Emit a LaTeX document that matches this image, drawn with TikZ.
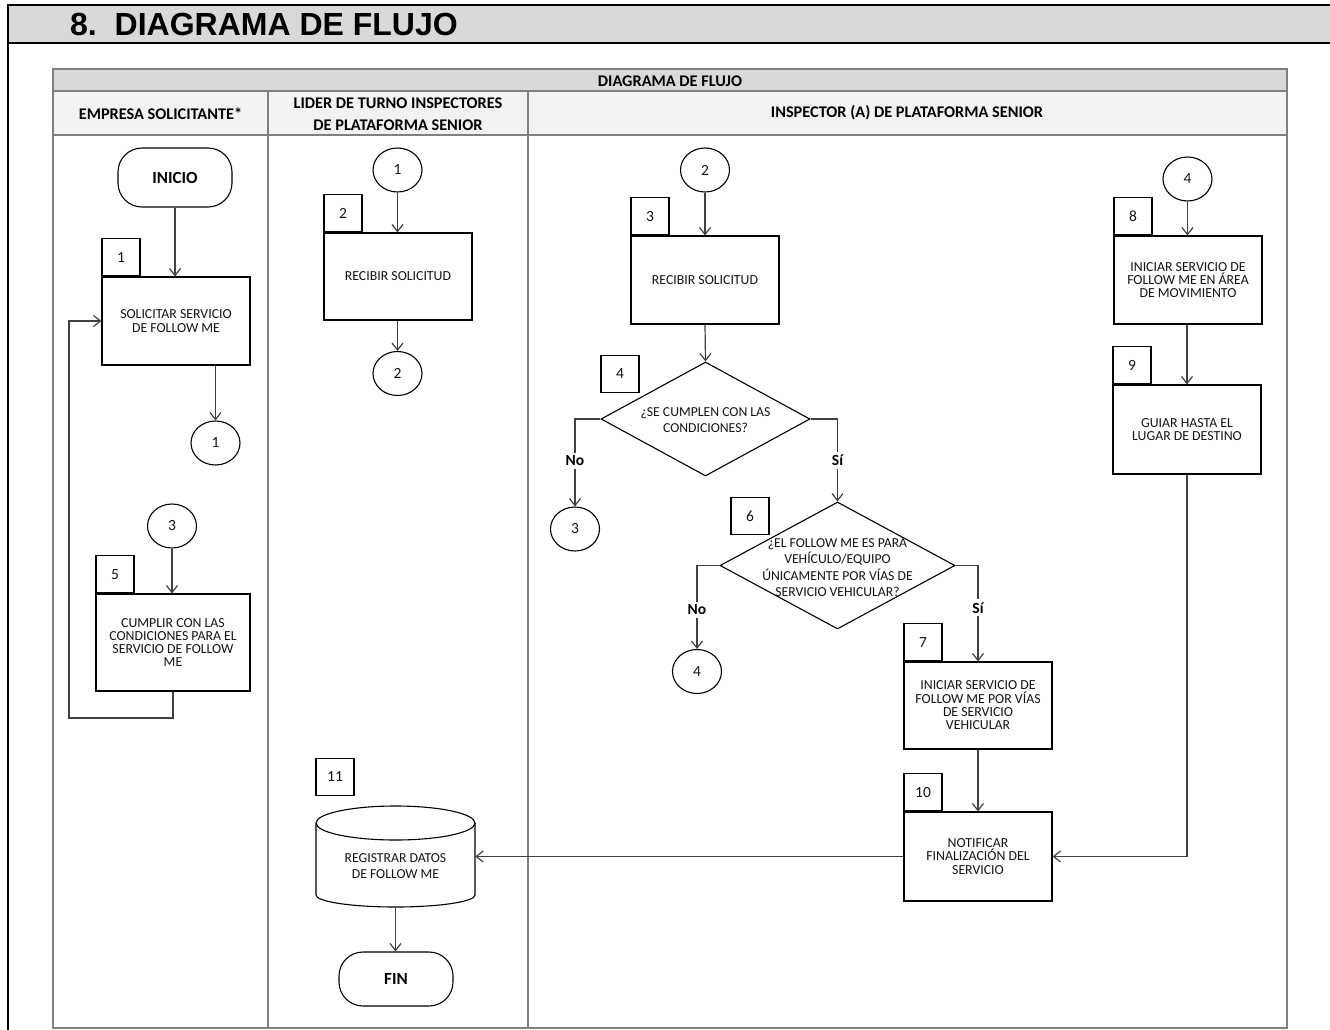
\documentclass[tikz,border=0pt]{standalone}
\usepackage{fontspec}
\setmainfont{Carlito}
\newfontfamily\titlefnt{Liberation Sans}
\usetikzlibrary{shapes.geometric,arrows.meta}
\newcommand\procfnt{\fontsize{13.8}{13.3}\selectfont}
\newcommand\decfnt{\fontsize{13.7}{16.3}\selectfont}
\newcommand\hdrfnt{\fontsize{16.3}{22}\selectfont\bfseries}
\newcommand\numfnt{\fontsize{15.5}{17}\selectfont}
\newcommand\termfnt{\fontsize{17}{20}\selectfont\bfseries}
\newcommand\ynfnt{\fontsize{15.5}{18}\selectfont\bfseries}
\definecolor{hdrgray}{HTML}{D9D9D9}
\definecolor{lanegray}{HTML}{F2F2F2}
\definecolor{tblline}{HTML}{7F7F7F}
\definecolor{conline}{HTML}{404040}
\definecolor{txt}{HTML}{141414}
\tikzset{
  procbox/.style={draw=black, line width=1.1pt, rectangle, inner sep=2pt, align=center, text=txt, font=\procfnt},
  tagbox/.style={draw=black, line width=1.1pt, rectangle, minimum width=38pt, minimum height=37pt, inner sep=0pt, text=txt, font=\numfnt},
  connc/.style={draw=black, line width=1.1pt, ellipse, minimum width=49pt, minimum height=44pt, inner sep=0pt, text=txt, font=\numfnt},
  termbox/.style={draw=black, line width=1.1pt, rectangle, rounded corners=24pt, minimum width=114pt, inner sep=0pt, text=black, font=\termfnt},
  decbox/.style={draw=black, line width=1.1pt, diamond, inner sep=0pt},
  dectext/.style={align=center, text=txt, font=\decfnt},
  arr/.style={draw=conline, line width=1.2pt, -{Straight Barb[length=7pt,width=11pt]}},
  conn/.style={draw=conline, line width=1.2pt},
  yn/.style={fill=white, inner sep=3pt, text=black, font=\ynfnt},
  hdrtext/.style={align=center, text=black, font=\hdrfnt}
}
\begin{document}
\begin{tikzpicture}[x=1pt,y=-1pt]
\useasboundingbox (0,0) rectangle (1330,1030);
\fill[white] (0,0) rectangle (1330,1030);
% title bar
\fill[hdrgray] (8,5) rectangle (1330,43);
\draw[line width=2.5pt] (1330,5) -- (8,5) -- (8,1030);
\draw[line width=2.5pt] (8,43) -- (1330,43);
\node[anchor=base west, inner sep=0pt, font=\titlefnt\bfseries\fontsize{32}{36}\selectfont] (title) at (70,36) {8.\ \ DIAGRAMA DE FLUJO};
% table
\fill[hdrgray] (53,69) rectangle (1287,91);
\fill[lanegray] (53,91) rectangle (1287,135);
\draw[tblline, line width=1.5pt] (53,69) rectangle (1287,1028);
\draw[tblline, line width=1.5pt] (53,91) -- (1287,91);
\draw[tblline, line width=1.5pt] (53,135) -- (1287,135);
\draw[tblline, line width=1.5pt] (268,91) -- (268,1028);
\draw[tblline, line width=1.5pt] (528,91) -- (528,1028);
\node[hdrtext] (hdr) at (670,81) {DIAGRAMA DE FLUJO};
\node[hdrtext] (h1) at (160.5,114) {EMPRESA SOLICITANTE*};
\node[hdrtext] (h2) at (398,114) {LIDER DE TURNO INSPECTORES\\DE PLATAFORMA SENIOR};
\node[hdrtext] (h3) at (907,113) {INSPECTOR (A) DE PLATAFORMA SENIOR};

% ---- lane 1
\node[termbox, minimum height=59pt] (inicio) at (175,177.5) {INICIO};
\node[procbox, minimum width=148pt, minimum height=88pt] (b1) at (176,321) {SOLICITAR SERVICIO\\DE FOLLOW ME};
\node[tagbox, anchor=south west] (t1) at (b1.north west) {1};
\node[connc] (c1a) at (215.5,443) {1};
\node[connc] (c3a) at (172,526) {3};
\node[procbox, minimum width=154pt, minimum height=97pt] (b5) at (173,642.5) {CUMPLIR CON LAS\\CONDICIONES PARA EL\\SERVICIO DE FOLLOW\\ME};
\node[tagbox, anchor=south west] (t5) at (b5.north west) {5};
\coordinate (fb) at (69,718);

\draw[arr] (inicio.south) -- (inicio.south |- b1.north);
\draw[arr] (c1a.north |- b1.south) -- (c1a.north);
\draw[arr] (c3a.south) -- (c3a.south |- b5.north);
\draw[arr] (b5.south) |- (fb) |- (b1.west);

% ---- lane 2
\node[connc] (c1b) at (397.5,170) {1};
\node[procbox, minimum width=148pt, minimum height=87pt] (b2) at (398,276.5) {RECIBIR SOLICITUD};
\node[tagbox, anchor=south west] (t2) at (b2.north west) {2};
\node[connc] (c2b) at (397.5,373.5) {2};
\node[tagbox] (t11) at (335,777) {11};
\node[minimum width=159pt, minimum height=101pt, inner sep=0pt,
      label={[align=center, text=txt, font=\decfnt, yshift=-9.5pt]center:REGISTRAR DATOS\\DE FOLLOW ME}] (cyl) at (395.5,856.5) {};
\draw[black, line width=1.1pt] (316,823) -- (316,895) arc[start angle=180, end angle=360, x radius=79.5pt, y radius=12pt] -- (475,823);
\draw[black, line width=1.1pt] (395.5,823) ellipse[x radius=79.5pt, y radius=17pt];
\node[termbox, minimum height=54pt] (fin) at (396,979) {FIN};

\draw[arr] (c1b.south) -- (c1b.south |- b2.north);
\draw[arr] (c2b.north |- b2.south) -- (c2b.north);
\draw[arr] (cyl.south) -- (cyl.south |- fin.north);

% ---- lane 3
\node[connc] (c2c) at (705,170) {2};
\node[procbox, minimum width=148pt, minimum height=88pt] (b3) at (705,280) {RECIBIR SOLICITUD};
\node[tagbox, anchor=south west] (t3) at (b3.north west) {3};
\node[decbox, minimum width=209pt, minimum height=114pt,
      label={[dectext, yshift=-1pt]center:¿SE CUMPLEN CON LAS\\CONDICIONES?}] (d4) at (705.5,419) {};
\node[tagbox] (t4) at (620,374) {4};
\node[connc] (c3c) at (575,529) {3};
\node[decbox, minimum width=235pt, minimum height=127pt,
      label={[dectext, yshift=-2pt]center:¿EL FOLLOW ME ES PARA\\VEHÍCULO/EQUIPO\\ÚNICAMENTE POR VÍAS DE\\SERVICIO VEHICULAR?}] (d6) at (837.5,565.5) {};
\node[tagbox] (t6) at (750,516) {6};
\node[connc] (c4c) at (697,671.5) {4};
\node[procbox, minimum width=148pt, minimum height=87pt] (b7) at (978,705.5) {INICIAR SERVICIO DE\\FOLLOW ME POR VÍAS\\DE SERVICIO\\VEHICULAR};
\node[tagbox, anchor=south west] (t7) at (b7.north west) {7};
\node[procbox, minimum width=148pt, minimum height=89pt] (b10) at (978,856.5) {NOTIFICAR\\FINALIZACIÓN DEL\\SERVICIO};
\node[tagbox, anchor=south west] (t10) at (b10.north west) {10};
\node[connc] (c4d) at (1187.5,179) {4};
\node[procbox, minimum width=148pt, minimum height=88pt] (b8) at (1188,280) {INICIAR SERVICIO DE\\FOLLOW ME EN ÁREA\\DE MOVIMIENTO};
\node[tagbox, anchor=south west] (t8) at (b8.north west) {8};
\node[procbox, minimum width=148pt, minimum height=89pt] (b9) at (1187,429.5) {GUIAR HASTA EL\\LUGAR DE DESTINO};
\node[tagbox, anchor=south west] (t9) at (b9.north west) {9};

\draw[arr] (c2c.south) -- (c2c.south |- b3.north);
\draw[arr] (b3.south) -- (d4.north);
\draw[arr] (d4.west) -| node[yn, pos=0.74] {No} (c3c.north);
\draw[arr] (d4.east) -| node[yn, pos=0.75] {Sí} (d6.north);
\draw[arr] (d6.west) -| node[yn, pos=0.765] {No} (c4c.north);
\draw[arr] (d6.east) -| node[yn, pos=0.72] {Sí} (b7.north);
\draw[arr] (b7.south) -- (b10.north);
\draw[arr] (b10.west) -- (cyl.east);
\draw[arr] (c4d.south) -- (c4d.south |- b8.north);
\draw[arr] (b8.south -| b9.north) -- (b9.north);
\draw[arr] (b9.south) |- (b10.east);
\end{tikzpicture}
\end{document}
